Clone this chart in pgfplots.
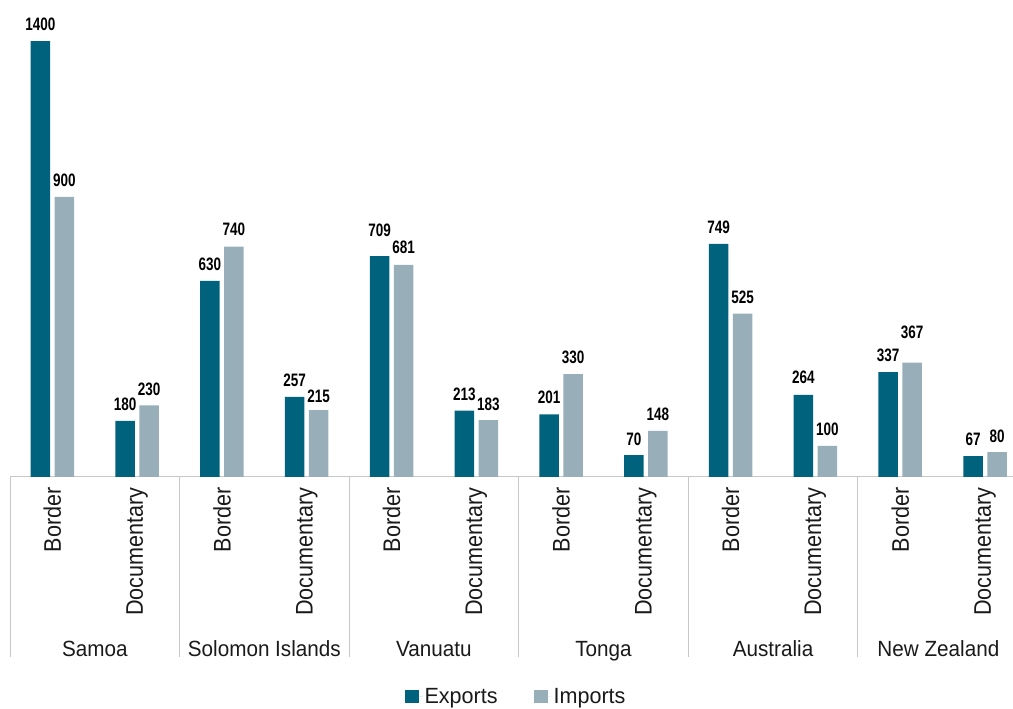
\documentclass[border=0pt]{standalone}
\usepackage{pgfplots}
\usepackage{pgfplotstable}
\pgfplotsset{compat=1.18}
\usepackage{fontspec}
\setmainfont{Liberation Sans}[FakeStretch=0.9]
\newfontfamily\lblfont{Liberation Sans}[FakeStretch=0.75]
\newfontfamily\grpfont{Liberation Sans}[FakeStretch=0.94]
\newfontfamily\legfont{Liberation Sans}[FakeStretch=0.98]
\definecolor{expc}{HTML}{00627C}
\definecolor{impc}{HTML}{98AFBA}
\definecolor{sepc}{HTML}{C8C8C8}
\definecolor{txt}{HTML}{1A1A1A}
\newcommand{\tickfont}{\fontsize{24}{28}\selectfont}
\newcommand{\txtfont}{\grpfont\fontsize{22}{26}\selectfont}
\newcommand{\legtxt}{\legfont\fontsize{22}{26}\selectfont}
\newcommand{\valfont}{\lblfont\bfseries\fontsize{18}{21}\selectfont}

% x: category index (Border/Documentary per country), y: value, gap: label offset (pt)
\pgfplotstableread{
x y gap
0 1400 10.5
1 180 10
2 630 10.5
3 257 10
4 709 19.5
5 213 10
6 201 10.5
7 70 10
8 749 10.5
9 264 11
10 337 10.5
11 67 10.5
}\exports
\pgfplotstableread{
x y gap
0 900 10.5
1 230 10
2 740 11
3 215 8
4 681 11
5 183 10
6 330 10.5
7 148 10
8 525 10
9 100 10
10 367 24
11 80 10
}\imports

\begin{document}
\begin{tikzpicture}
\begin{axis}[
  at={(10pt,232pt)}, anchor=south west,
  scale only axis, width=1003pt, height=477pt,
  xmin=-0.5, xmax=11.33, ymin=0, ymax=1532,
  clip=false,
  axis x line*=bottom, axis y line=none,
  x axis line style={draw=sepc, line width=1pt},
  ybar=4.5pt, bar width=19.5pt,
  xtick={0,...,11}, major tick length=0pt,
  xticklabels={Border,Documentary,Border,Documentary,Border,Documentary,Border,Documentary,Border,Documentary,Border,Documentary},
  xticklabel style={rotate=90, anchor=east, inner sep=0pt, font=\tickfont, text=txt},
  xticklabel shift=10pt,
  legend columns=2,
  legend style={at={(0.5045,-0.4612)}, anchor=center, draw=none, fill=none, font=\legtxt, text=txt,
    /tikz/every even column/.append style={column sep=34pt}},
  legend image code/.code={\fill[#1] (0pt,-6.5pt) rectangle (14pt,6.5pt); \path (0pt,0pt) -- (18pt,0pt);},
]
\addplot[fill=expc, draw=none,
  nodes near coords, point meta=explicit symbolic,
  visualization depends on={\thisrow{gap} \as \gap},
  every node near coord/.append style={anchor=base, inner sep=0pt, font=\valfont, text=black, yshift=\gap*1pt}]
  table[x=x, y=y, meta=y] {\exports};
\addplot[fill=impc, draw=none,
  nodes near coords, point meta=explicit symbolic,
  visualization depends on={\thisrow{gap} \as \gap},
  every node near coord/.append style={anchor=base, inner sep=0pt, font=\valfont, text=black, yshift=\gap*1pt}]
  table[x=x, y=y, meta=y] {\imports};
\legend{Exports,Imports}

\draw[sepc, line width=1pt] (axis cs:-0.5,0) -- ([yshift=-180pt]axis cs:-0.5,0);
\draw[sepc, line width=1pt] (axis cs:1.5,0) -- ([yshift=-180pt]axis cs:1.5,0);
\draw[sepc, line width=1pt] (axis cs:3.5,0) -- ([yshift=-180pt]axis cs:3.5,0);
\draw[sepc, line width=1pt] (axis cs:5.5,0) -- ([yshift=-180pt]axis cs:5.5,0);
\draw[sepc, line width=1pt] (axis cs:7.5,0) -- ([yshift=-180pt]axis cs:7.5,0);
\draw[sepc, line width=1pt] (axis cs:9.5,0) -- ([yshift=-180pt]axis cs:9.5,0);

\node[anchor=base, font=\txtfont, text=txt, inner sep=0pt, yshift=-180pt] at (axis cs:0.5,0) {Samoa};
\node[anchor=base, font=\txtfont, text=txt, inner sep=0pt, yshift=-180pt] at (axis cs:2.5,0) {Solomon Islands};
\node[anchor=base, font=\txtfont, text=txt, inner sep=0pt, yshift=-180pt] at (axis cs:4.5,0) {Vanuatu};
\node[anchor=base, font=\txtfont, text=txt, inner sep=0pt, yshift=-180pt] at (axis cs:6.5,0) {Tonga};
\node[anchor=base, font=\txtfont, text=txt, inner sep=0pt, yshift=-180pt] at (axis cs:8.5,0) {Australia};
\node[anchor=base, font=\txtfont, text=txt, inner sep=0pt, yshift=-180pt] at (axis cs:10.45,0) {New Zealand};
\end{axis}
\pgfresetboundingbox
\useasboundingbox (0,0) rectangle (1013pt,709pt);
\end{tikzpicture}
\end{document}
